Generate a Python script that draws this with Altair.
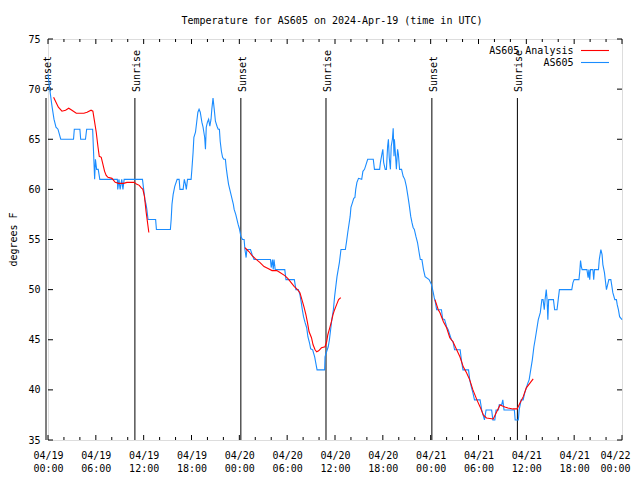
import altair as alt
import pandas as pd

FONT = "DejaVu Sans Mono"
RED = "#ff0000"
BLUE = "#1a8cff"
W, H = 574, 401

title_text = "Temperature for AS605 on 2024-Apr-19 (time in UTC)"
y_title = "degrees F"
series_names = ["AS605 Analysis", "AS605"]

# AS605 observations: hours since 04/19 00:00 UTC, temperature (F)
blue_hours = [0.0, 0.15, 0.3, 0.5, 0.75, 1.0, 1.25, 1.6, 3.2, 3.3, 4.0, 4.1, 4.7, 4.85, 5.6, 5.7, 5.85, 5.95,
              6.1, 6.3, 6.5, 8.7, 8.75, 8.9, 9.05, 9.25, 9.4, 9.55, 11.85, 12.0, 12.15, 12.3, 12.4, 12.55,
              13.5, 13.6, 15.35, 15.45, 15.55, 15.7, 15.9, 16.2, 16.45, 16.55, 16.95, 17.1, 17.25, 17.35,
              17.5, 17.95, 18.05, 18.2, 18.3, 18.5, 18.65, 18.8, 18.95, 19.1, 19.3, 19.45, 19.55, 19.65,
              19.75, 19.85, 20.0, 20.15, 20.3, 20.45, 20.55, 20.7, 20.85, 21.0, 21.2, 21.35, 21.5, 21.6,
              21.75, 21.9, 22.05, 22.25, 22.35, 22.5, 22.65, 22.8, 22.95, 23.1, 23.25, 23.35, 23.55, 23.7,
              23.85, 24.0, 24.2, 24.4, 24.6, 24.7, 24.85, 24.95, 25.4, 25.6, 25.85, 27.9, 28.0, 28.15,
              28.25, 28.35, 28.5, 29.7, 29.85, 30.9, 31.1, 31.4, 31.6, 31.75, 31.9, 32.05, 32.25, 32.45,
              32.6, 32.8, 32.95, 33.2, 33.45, 33.75, 34.7, 34.75, 34.9, 35.15, 35.3, 35.45, 35.6, 35.8,
              35.95, 36.1, 36.25, 36.4, 36.55, 36.75, 37.3, 37.45, 37.6, 37.75, 37.9, 38.0, 38.2, 38.35,
              38.5, 38.6, 38.75, 38.95, 39.35, 39.5, 39.7, 39.9, 40.1, 40.8, 40.95, 41.6, 41.7, 41.9,
              42.0, 42.1, 42.3, 42.45, 42.6, 42.7, 42.8, 42.95, 43.05, 43.2, 43.3, 43.4, 43.45, 43.6,
              43.7, 43.85, 43.95, 44.1, 44.35, 44.55, 44.75, 44.95, 45.15, 45.3, 45.5, 45.65, 45.8,
              45.95, 46.15, 46.35, 46.55, 46.7, 46.9, 47.1, 47.3, 47.8, 48.1, 48.3, 48.45, 48.6, 48.75,
              49.35, 49.5, 49.75, 50.0, 50.2, 50.4, 50.6, 50.8, 51.0, 51.7, 51.85, 52.05, 52.75, 52.9,
              53.1, 53.3, 53.5, 54.2, 54.4, 54.75, 54.95, 55.65, 55.8, 56.05, 56.2, 56.5, 56.6, 56.9,
              57.05, 57.2, 58.5, 58.6, 59.0, 59.1, 59.35, 59.6, 59.8, 60.0, 60.2, 60.35, 60.55, 60.75,
              60.95, 61.1, 61.3, 61.5, 61.75, 61.95, 62.1, 62.25, 62.35, 62.5, 62.6, 62.7, 62.8, 63.4,
              63.55, 63.85, 64.0, 64.15, 65.7, 65.85, 66.0, 66.6, 66.7, 66.8, 66.9, 67.0, 67.6, 67.75,
              67.85, 67.95, 68.05, 68.35, 68.45, 68.55, 69.05, 69.15, 69.35, 69.5, 69.6, 69.8, 69.9,
              70.05, 70.2, 70.35, 70.6, 70.7, 70.85, 71.1, 71.3, 71.4, 71.55, 71.7, 72.0]
blue_temps = [71.5, 70.5, 69.5, 68.3, 67, 66.2, 66, 65, 65, 66, 66, 65, 65, 66, 66, 64, 61, 63,
              62, 62, 61, 61, 60, 61, 60, 61, 60, 61, 61, 60, 59, 58.5, 58, 57,
              57, 56, 56, 57, 58.5, 59.5, 60.3, 61, 61, 60, 60, 61, 60.5, 60,
              61, 61, 62, 63.7, 65.2, 65.7, 66.7, 67.7, 68, 67.7, 66.7, 66.2, 65.7, 65.2,
              64, 66.2, 66.7, 67, 66.3, 67, 68, 69.1, 68, 66.8, 66.3, 66, 66, 64.8,
              63.8, 63.2, 63, 63, 62.2, 61.3, 60.5, 60, 59.5, 59, 58.5, 58, 57.5, 57,
              56.5, 56.1, 55.3, 55, 55, 54, 53.2, 54, 54, 53.5, 53, 53, 52.2, 53,
              52, 53, 52, 52, 51, 51, 50, 50, 49.5, 48.8, 48, 47.3, 46.7, 46.2,
              45.3, 44.7, 44.1, 44, 43.3, 42, 42, 43.3, 43.7, 44.3, 45, 46, 47, 48,
              49.3, 50.3, 51.3, 52, 52.7, 54, 54, 54.8, 55.7, 56.5, 57.3, 58.2, 58.7, 59.1,
              59.2, 60, 60.7, 61.1, 61, 61.8, 62, 62.5, 63, 63, 62, 62, 62.7, 63.6,
              64, 62.7, 62, 62, 64.3, 65, 63.2, 62, 64.3, 65, 66.1, 63.3, 65, 63.3,
              62, 64, 63.5, 62, 62, 61.3, 61, 60.3, 59.3, 58.5, 57.3, 56.7, 56.2,
              56, 55.3, 54.7, 53.7, 53, 53, 52, 51.3, 51, 50.5, 49.8, 49.2, 48.7, 48,
              48, 47.1, 47, 46.3, 46, 45.5, 45, 44.8, 44, 44, 43, 42, 42, 41,
              40.3, 39.7, 39, 39, 38, 37, 38, 38, 37, 37, 38, 38, 38.5, 38.5,
              39, 38, 38, 37, 37, 38, 39, 39, 39.7, 40.2, 40.7, 41, 42, 43,
              44.3, 45, 46, 47, 47.7, 49, 49, 48, 49, 50, 49, 47, 49, 49,
              48, 48, 49, 50, 50, 50.7, 51, 51, 51.8, 52.9, 52.3, 52, 52, 51.2,
              52, 51, 52, 52, 51, 52, 52, 53, 54, 53.5, 52.5, 51.7, 51,
              50, 50.5, 51, 51, 50.5, 49.7, 49, 49, 48.5, 48, 47.3, 47]

# AS605 Analysis: three separate runs
red_seg = [1] * 35 + [2] * 38 + [3] * 28
red_hours = [0.7, 1.0, 1.3, 1.75, 2.2, 2.6, 3.0, 3.55, 4.5, 4.9, 5.4, 5.63, 5.85, 6.05, 6.26, 6.43,
             6.68, 6.89, 7.1, 7.3, 7.52, 8.02, 8.43, 8.85, 9.48, 9.9, 10.3, 10.8, 11.15, 11.45,
             11.65, 11.9, 12.1, 12.3, 12.65,
             24.7, 24.8, 25.2, 25.6, 26.0, 26.6, 27.1, 27.6, 28.1, 28.7, 29.1, 29.7, 30.1, 30.5,
             30.9, 31.3, 31.6, 31.85, 32.1, 32.35, 32.55, 32.75, 33.05, 33.25, 33.5, 33.7, 33.95,
             34.3, 34.75, 34.95, 35.1, 35.35, 35.55, 35.75, 35.95, 36.2, 36.45, 36.72,
             48.54, 48.95, 49.17, 49.6, 50.0, 50.4, 50.8, 51.26, 51.67, 52.09, 52.5, 52.9, 53.3,
             53.8, 54.2, 54.6, 55.0, 55.85, 56.27, 56.7, 57.3, 57.7, 58.3, 58.85, 59.2, 59.6,
             60.0, 60.86]
red_temps = [69.2, 68.7, 68.2, 67.8, 67.9, 68.1, 67.9, 67.6, 67.6, 67.7, 67.9, 67.8, 66.7, 65.7,
             64.3, 63.3, 63.2, 62.5, 61.8, 61.4, 61.2, 61.1, 60.7, 60.6, 60.6, 60.7, 60.7, 60.7,
             60.5, 60.4, 60.2, 60.0, 59.3, 57.8, 55.7,
             54.2, 54.1, 53.8, 53.4, 53.1, 52.7, 52.3, 52.1, 51.9, 51.9, 51.7, 51.4, 51.1, 50.7,
             50.3, 50.0, 49.7, 49.0, 48.3, 47.5, 46.7, 45.8, 45.2, 44.5, 44.0, 43.8, 43.9,
             44.2, 44.3, 44.8, 45.5, 46.2, 46.8, 47.5, 48.0, 48.5, 49.0, 49.2,
             49.0, 48.0, 47.7, 46.8, 46.2, 45.2, 44.8, 44.0, 43.3, 42.3, 41.7, 41.0, 40.0,
             39.0, 38.3, 37.5, 37.2, 37.1, 37.8, 38.5, 38.3, 38.2, 38.1, 38.1, 38.7, 39.3,
             40.2, 41.1]

sun_hours = [-0.25, 10.9, 24.19, 34.87, 48.15, 58.88]
sun_labels = ["Sunset", "Sunrise", "Sunset", "Sunrise", "Sunset", "Sunrise"]

x_major = [0, 6, 12, 18, 24, 30, 36, 42, 48, 54, 60, 66, 72]
x_minor = [2, 4, 8, 10, 14, 16, 20, 22, 26, 28, 32, 34, 38, 40, 44, 46, 50, 52, 56, 58, 62, 64, 68, 70]
y_major = [35, 40, 45, 50, 55, 60, 65, 70, 75]

blue_df = pd.DataFrame({"h": blue_hours, "t": blue_temps})
red_df = pd.DataFrame({"h": red_hours, "t": red_temps, "seg": red_seg})
sun_df = pd.DataFrame({"h": sun_hours, "label": sun_labels})
xmaj_df = pd.DataFrame({"h": x_major})
xmin_df = pd.DataFrame({"h": x_minor})
ymaj_df = pd.DataFrame({"t": y_major})
one_df = pd.DataFrame({"k": [0]})

xscale = alt.Scale(domain=[0, 72], nice=False, zero=False)
yscale = alt.Scale(domain=[35, 75], nice=False, zero=False)

x_axis = alt.Axis(
    values=x_major, title="", ticks=False, tickSize=0, domain=False, grid=False,
    labelExpr="['04/' + (19 + floor(datum.value / 24)), (datum.value % 24 < 10 ? '0' : '') + (datum.value % 24) + ':00']",
    labelFont=FONT, labelFontSize=10, labelColor="black", labelPadding=10,
    labelBaseline="top", labelLineHeight=13, labelOverlap=False, labelFlush=False, labelBound=False,
    labelOffset={"condition": {"test": "datum.value == 72", "value": -7}, "value": 0},
)
y_axis = alt.Axis(
    values=y_major, title=y_title, ticks=False, tickSize=0, domain=False, grid=False,
    labelFont=FONT, labelFontSize=10, labelColor="black", labelPadding=8,
    labelOverlap=False, labelFlush=False,
    titleFont=FONT, titleFontSize=10, titleFontWeight="normal", titleColor="black",
    titleAngle=270, titleAlign="center", titleBaseline="middle", titleX=-35, titleY=200,
)

blue = alt.Chart(blue_df).mark_line(color=BLUE, strokeWidth=1.1).encode(
    x=alt.X("h:Q", scale=xscale, axis=x_axis),
    y=alt.Y("t:Q", scale=yscale, axis=y_axis),
)
red = alt.Chart(red_df).mark_line(color=RED, strokeWidth=1.1).encode(
    x=alt.X("h:Q"), y=alt.Y("t:Q"), detail="seg:N"
)
sun_rules = alt.Chart(sun_df).mark_rule(color="black", strokeWidth=1).encode(
    x=alt.X("h:Q"), y=alt.value(59), y2=alt.value(H)
)
sun_text = alt.Chart(sun_df).mark_text(
    angle=270, align="left", baseline="alphabetic", dy=5, font=FONT, fontSize=10, color="black"
).encode(x=alt.X("h:Q"), y=alt.value(53), text="label:N")

tick_style = dict(color="black", strokeWidth=1)
xb_maj = alt.Chart(xmaj_df).mark_rule(**tick_style).encode(x=alt.X("h:Q"), y=alt.value(H), y2=alt.value(H - 5))
xt_maj = alt.Chart(xmaj_df).mark_rule(**tick_style).encode(x=alt.X("h:Q"), y=alt.value(0), y2=alt.value(5))
xb_min = alt.Chart(xmin_df).mark_rule(**tick_style).encode(x=alt.X("h:Q"), y=alt.value(H), y2=alt.value(H - 3))
xt_min = alt.Chart(xmin_df).mark_rule(**tick_style).encode(x=alt.X("h:Q"), y=alt.value(0), y2=alt.value(3))
yl = alt.Chart(ymaj_df).mark_rule(**tick_style).encode(y=alt.Y("t:Q"), x=alt.value(0), x2=alt.value(5))
yr = alt.Chart(ymaj_df).mark_rule(**tick_style).encode(y=alt.Y("t:Q"), x=alt.value(W), x2=alt.value(W - 5))

leg_text_style = dict(align="right", baseline="middle", font=FONT, fontSize=10, color="black")
leg_t1 = alt.Chart(one_df).mark_text(**leg_text_style).encode(
    x=alt.value(525.5), y=alt.value(11.5), text=alt.value(series_names[0]))
leg_t2 = alt.Chart(one_df).mark_text(**leg_text_style).encode(
    x=alt.value(525.5), y=alt.value(23.5), text=alt.value(series_names[1]))
leg_l1 = alt.Chart(one_df).mark_rule(color=RED, strokeWidth=1.1).encode(
    x=alt.value(533), x2=alt.value(561), y=alt.value(11.5))
leg_l2 = alt.Chart(one_df).mark_rule(color=BLUE, strokeWidth=1.1).encode(
    x=alt.value(533), x2=alt.value(561), y=alt.value(23.5))

chart = alt.layer(
    sun_rules, sun_text, xb_maj, xt_maj, xb_min, xt_min, yl, yr,
    blue, red, leg_t1, leg_t2, leg_l1, leg_l2,
).properties(
    width=W, height=H,
    title=alt.TitleParams(title_text, font=FONT, fontSize=10, fontWeight="normal", color="black",
                          anchor="middle", frame="group", offset=3, baseline="middle", dx=-3),
    autosize=alt.AutoSizeParams(type="none"),
    padding={"left": 40, "top": 31, "right": 10, "bottom": 32},
).configure_view(stroke="black", strokeWidth=1).configure(background="white")

chart.save("out.html", embed_options={"renderer": "svg", "actions": False})
